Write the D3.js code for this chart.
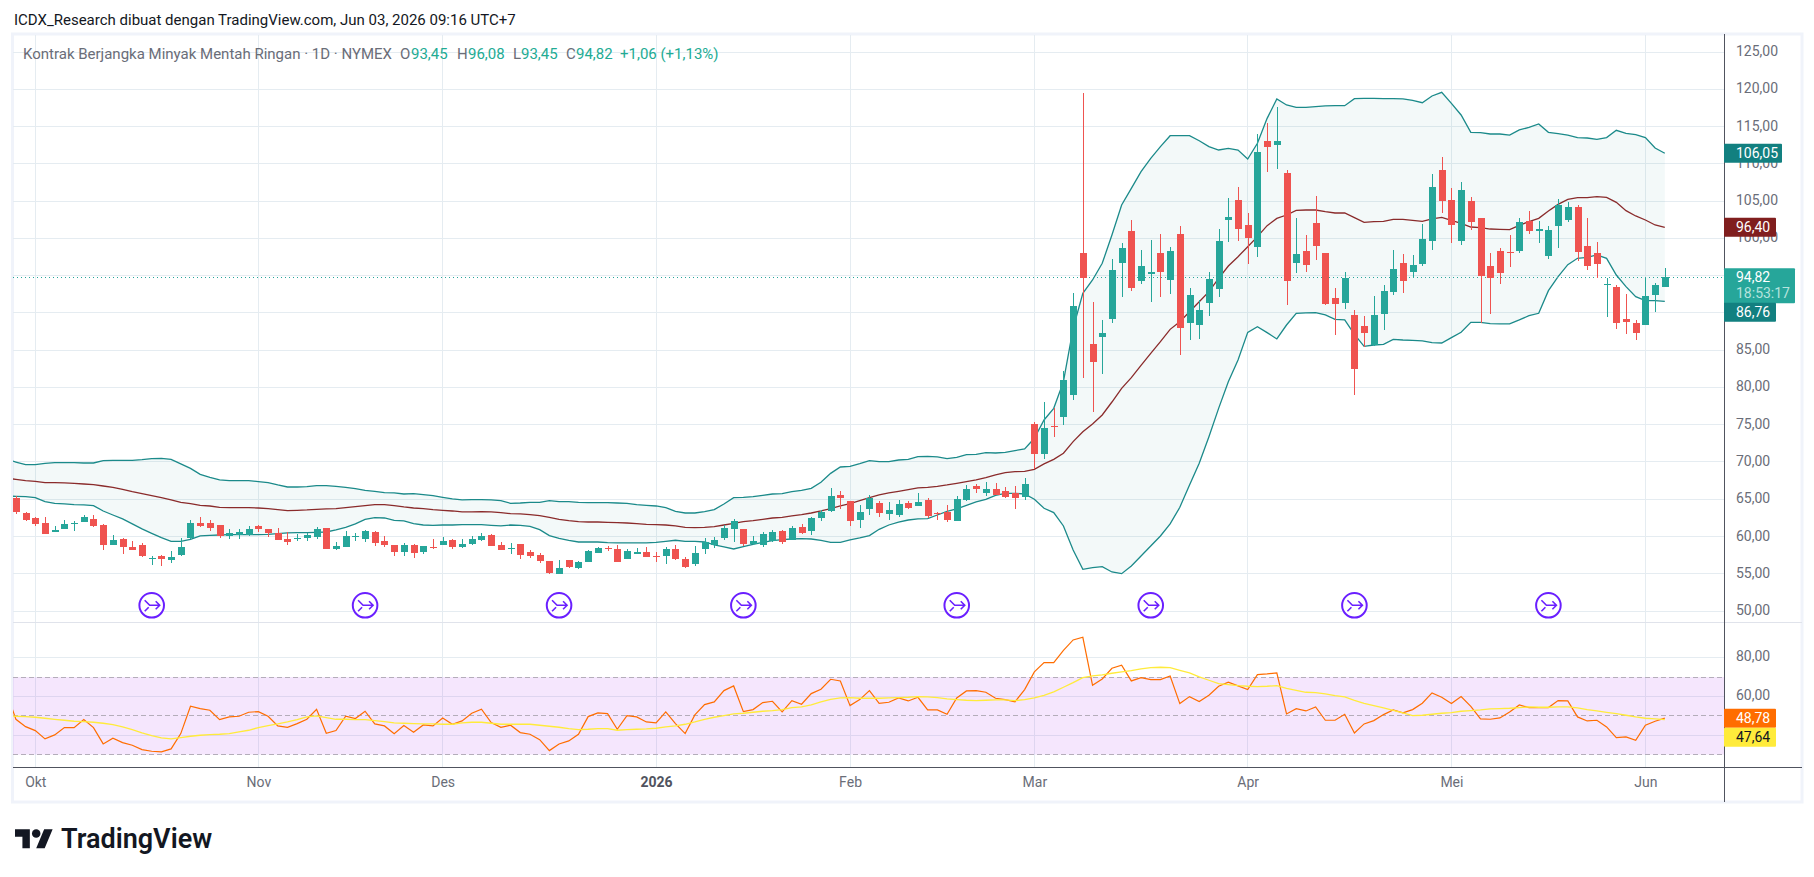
<!DOCTYPE html>
<html>
<head>
<meta charset="utf-8">
<style>
  html, body { margin: 0; padding: 0; background: #fff; }
  svg { display: block; }
  text { font-family: Roboto, "Noto Sans", sans-serif; }
</style>
<script src="https://cdn.jsdelivr.net/npm/d3@7"></script>
</head>
<body>
<svg id="chart" width="1814" height="877"></svg>
<script>
// daily bars, first one sits left of the plot edge and gets clipped
var opens = [66.00,65.20,63.19,62.52,61.85,60.69,61.05,61.81,61.98,62.39,61.58,
  58.90,59.70,58.63,58.90,57.11,57.42,56.89,57.56,59.84,61.85,
  61.85,61.58,60.11,60.24,60.24,61.45,61.05,60.51,59.70,59.70,
  59.84,59.97,61.18,58.36,58.63,59.97,59.70,60.64,59.44,58.90,
  57.96,58.90,57.96,58.59,58.90,59.57,58.63,59.03,59.57,60.24,
  58.90,58.41,59.03,57.96,57.56,56.75,55.01,56.89,55.81,56.62,
  57.83,58.54,58.36,57.02,57.69,57.96,57.38,57.42,58.36,57.02,
  56.35,58.36,58.90,59.84,61.05,61.05,59.03,58.90,59.44,60.78,
  59.57,61.31,60.78,62.52,63.46,65.61,64.80,62.25,63.73,64.53,
  63.06,62.92,64.53,64.13,64.94,63.15,63.33,62.12,64.94,66.81,
  65.88,66.41,66.14,65.88,65.34,75.13,71.11,74.86,76.07,79.02,
  98.07,85.87,86.80,89.22,96.73,101.03,94.32,95.26,98.07,94.45,
  100.62,88.68,88.41,91.37,93.24,102.50,105.19,101.83,98.88,113.10,
  112.56,108.81,96.73,98.34,102.10,98.07,92.04,91.37,89.76,88.28,
  85.73,89.89,92.84,96.73,95.53,96.60,99.68,109.21,105.19,99.68,
  105.05,102.77,96.33,98.34,98.21,98.34,102.37,101.03,97.67,101.70,
  102.50,104.25,99.01,98.07,93.83,93.51,89.22,88.68,88.41,92.44,
  93.45];
var highs = [66.30,65.47,63.37,62.61,62.61,61.45,62.25,62.12,62.92,62.92,61.72,
  60.24,59.84,59.44,59.17,57.42,57.56,58.09,59.84,62.25,62.66,
  62.25,61.58,61.05,61.05,61.45,61.58,61.05,61.18,60.64,60.38,
  60.51,61.31,61.18,59.30,60.78,60.51,60.91,60.78,60.11,58.90,
  59.17,59.03,58.77,59.70,59.97,59.70,59.70,60.11,60.51,60.38,
  59.30,59.17,59.03,58.23,57.83,56.75,56.89,56.89,56.75,58.23,
  58.63,58.77,58.90,58.36,58.50,58.63,57.96,58.63,58.90,57.29,
  58.77,59.84,59.97,61.58,62.39,61.05,60.11,60.64,60.91,60.91,
  61.45,61.72,62.66,63.59,66.55,66.14,64.80,64.27,65.61,64.80,
  64.67,64.94,64.80,65.88,65.20,63.33,64.27,65.47,66.95,67.08,
  67.35,67.22,66.68,66.81,67.89,75.40,78.08,77.28,82.24,92.71,
  119.54,91.50,89.09,97.27,99.42,102.50,98.48,99.82,100.62,98.88,
  101.70,93.38,91.77,95.53,101.29,105.45,106.93,103.44,114.04,115.51,
  117.66,109.21,102.77,100.49,105.72,98.07,93.38,95.53,90.43,89.62,
  92.31,93.78,98.48,97.94,97.81,101.97,108.67,110.95,106.79,107.60,
  105.59,102.77,98.07,98.74,100.49,102.77,103.71,102.37,101.70,105.32,
  104.92,104.51,102.77,99.55,94.72,93.78,92.57,89.09,94.85,94.05,
  96.08];
var lows = [65.00,63.10,62.12,61.45,60.38,60.69,61.05,60.82,61.98,61.31,58.23,
  58.90,57.69,58.23,57.29,56.22,56.08,56.48,57.42,59.70,61.31,
  60.78,59.84,59.70,59.70,60.11,60.64,59.97,59.57,58.90,59.44,
  59.44,59.70,58.36,58.23,58.63,59.44,59.30,58.77,58.63,57.42,
  57.42,57.16,57.69,58.36,58.90,58.36,58.50,58.90,59.44,58.77,
  58.23,57.69,57.02,57.16,56.48,55.01,55.01,55.81,55.68,56.62,
  57.83,58.09,56.62,57.02,57.69,57.29,56.62,56.35,56.89,55.81,
  56.08,57.69,58.50,59.57,59.30,58.77,58.90,58.63,59.30,59.03,
  59.57,60.38,60.24,62.12,63.33,63.73,61.45,61.18,62.92,62.66,
  62.25,62.66,63.73,64.13,62.52,62.25,61.98,62.12,64.80,65.88,
  65.47,65.61,65.20,63.73,64.94,69.10,70.44,73.39,75.00,78.35,
  81.35,76.74,81.84,88.68,92.17,92.98,93.92,91.50,92.17,92.57,
  84.39,86.40,86.54,89.62,92.17,99.55,99.68,96.60,97.54,108.94,
  109.34,91.10,95.39,95.53,97.13,91.10,87.07,90.56,79.02,85.46,
  85.60,87.74,92.44,92.71,94.72,96.33,98.48,103.44,99.42,99.15,
  101.16,88.68,89.89,93.92,96.20,98.07,100.62,99.42,97.27,98.74,
  102.23,97.00,95.79,94.72,89.49,87.88,87.21,86.40,88.41,90.16,
  93.45];
var closes = [65.20,63.33,62.25,61.72,60.38,60.91,61.72,61.90,62.66,61.45,58.90,
  59.57,58.63,58.23,57.42,57.20,57.02,57.29,58.63,61.85,61.45,
  61.18,60.11,60.51,60.64,61.05,61.05,60.51,59.57,59.30,59.84,
  60.24,61.05,58.36,58.77,60.11,60.11,60.78,59.17,58.90,57.96,
  58.90,57.83,58.77,58.50,59.44,58.63,59.03,59.70,60.11,58.77,
  58.23,58.54,57.56,57.42,56.75,55.14,55.81,55.95,56.62,58.09,
  58.50,58.41,56.62,58.09,57.96,57.29,57.29,58.36,57.02,55.95,
  57.83,59.30,59.57,61.18,62.12,59.03,59.44,60.38,60.64,59.30,
  61.18,60.51,62.52,63.33,65.47,65.20,62.12,63.33,65.20,63.19,
  63.59,64.40,63.86,64.67,62.79,63.02,62.25,65.07,66.41,66.41,
  66.41,65.61,65.34,65.20,67.08,71.11,74.60,74.78,81.04,90.96,
  94.72,83.45,87.34,95.79,98.74,93.38,96.33,95.53,95.53,98.34,
  88.01,92.44,90.43,94.59,99.68,102.90,101.29,100.09,111.63,112.30,
  113.10,94.32,97.94,96.46,99.01,91.23,91.23,94.72,82.51,87.34,
  89.76,92.98,95.93,94.32,96.46,99.95,106.93,105.05,101.83,106.53,
  102.23,94.99,94.72,95.39,98.07,102.23,101.03,101.29,101.16,104.51,
  104.25,98.21,96.33,96.60,93.96,88.68,88.82,87.34,92.31,93.78,
  94.82];

var bbUpper = [70.40,70.03,69.68,69.68,69.86,69.95,69.95,69.95,69.90,69.90,70.21,
  70.26,70.26,70.26,70.35,70.48,70.53,70.39,69.77,69.18,68.38,
  67.98,67.62,67.53,67.53,67.53,67.40,67.26,66.95,66.68,66.68,
  66.73,66.86,66.86,66.77,66.64,66.46,66.23,66.10,65.92,65.88,
  65.74,65.79,65.65,65.52,65.29,65.07,64.94,64.98,64.98,64.94,
  64.85,64.49,64.53,64.62,64.62,64.85,64.71,64.71,64.62,64.58,
  64.58,64.58,64.53,64.49,64.31,64.22,64.13,63.91,63.42,63.19,
  63.19,63.37,63.64,64.40,65.25,65.29,65.38,65.56,65.74,65.79,
  66.05,66.23,66.50,67.31,68.51,69.36,69.45,69.81,70.21,70.08,
  70.08,70.30,70.39,70.75,70.79,70.71,70.48,70.66,71.02,71.06,
  71.29,71.24,71.33,71.56,71.78,73.21,75.67,77.23,80.81,87.97,
  92.66,94.45,96.69,100.49,104.51,106.75,108.99,110.77,112.34,113.81,
  113.81,113.81,113.14,112.34,111.89,112.12,111.89,110.68,112.79,116.14,
  118.74,117.93,117.62,117.62,117.71,117.80,117.84,117.84,118.78,118.82,
  118.82,118.78,118.78,118.74,118.56,118.24,119.14,119.63,118.15,116.59,
  114.26,114.22,114.04,114.04,113.90,114.58,114.93,115.38,114.26,114.08,
  113.90,113.55,113.50,113.33,113.55,114.53,114.13,113.95,113.55,112.16,
  111.45];
var bbMiddle = [67.85,67.71,67.53,67.44,67.26,67.26,67.22,67.17,67.08,66.99,66.81,
  66.64,66.37,66.05,65.79,65.52,65.25,64.94,64.62,64.44,64.22,
  64.13,63.95,63.91,63.91,63.91,63.86,63.77,63.64,63.51,63.55,
  63.60,63.68,63.73,63.77,63.91,64.04,64.18,64.31,64.31,64.18,
  64.00,63.86,63.77,63.64,63.55,63.46,63.33,63.33,63.37,63.33,
  63.24,63.10,63.06,62.97,62.83,62.61,62.34,62.16,62.03,61.98,
  61.98,61.94,61.90,61.85,61.76,61.67,61.63,61.58,61.45,61.27,
  61.22,61.27,61.36,61.58,61.81,62.03,62.16,62.34,62.52,62.61,
  62.79,62.97,63.19,63.46,63.77,64.13,64.44,64.85,65.25,65.61,
  65.88,66.10,66.32,66.55,66.64,66.77,66.95,67.17,67.40,67.62,
  67.93,68.29,68.60,68.74,68.78,69.05,69.77,70.39,71.20,72.76,
  74.10,75.13,76.34,78.08,79.92,81.35,83.00,84.61,86.18,87.83,
  88.86,90.20,91.54,92.89,94.68,96.33,97.58,98.92,100.27,101.74,
  102.72,103.17,103.80,103.84,103.84,103.62,103.44,103.44,102.81,102.19,
  102.28,102.32,102.59,102.59,102.46,102.32,102.64,102.86,102.46,102.05,
  101.56,101.47,101.29,101.25,101.20,101.79,102.28,102.72,103.71,104.60,
  105.27,105.50,105.50,105.63,105.54,104.87,103.75,103.04,102.50,101.83,
  101.52];
var bbLower = [65.45,65.43,65.38,65.25,64.71,64.49,64.40,64.31,64.27,64.18,63.46,
  62.92,62.39,61.72,61.05,60.46,59.88,59.39,59.39,59.66,60.11,
  60.20,60.24,60.29,60.29,60.29,60.29,60.33,60.42,60.51,60.55,
  60.55,60.60,60.64,60.91,61.27,61.72,62.34,62.57,62.52,62.21,
  62.12,61.76,61.58,61.54,61.58,61.58,61.63,61.63,61.63,61.54,
  61.45,61.58,61.54,61.40,60.96,60.15,59.79,59.53,59.30,59.30,
  59.30,59.21,59.17,59.17,59.17,59.17,59.26,59.39,59.53,59.39,
  59.39,59.30,58.90,58.63,58.36,58.68,58.99,59.26,59.48,59.61,
  59.70,59.75,59.70,59.53,59.26,59.26,59.57,59.84,60.15,61.00,
  61.58,61.98,62.25,62.39,62.43,62.92,63.42,63.73,64.22,64.67,
  65.03,65.56,65.83,65.83,65.74,65.03,63.82,63.24,61.45,58.23,
  55.63,55.86,55.99,55.28,55.05,56.08,57.42,58.77,60.11,61.72,
  63.95,66.95,69.86,73.43,77.23,80.81,83.72,87.43,88.19,87.39,
  86.54,88.41,89.98,90.03,90.07,89.76,89.18,89.09,87.16,85.55,
  85.73,85.82,86.49,86.40,86.36,86.27,86.04,86.00,86.71,87.43,
  88.77,88.77,88.59,88.55,88.55,89.09,89.67,89.98,93.02,94.90,
  96.51,97.36,97.49,97.81,97.36,95.12,93.56,92.22,91.68,91.68,
  91.59];

var rsiValues = [62.50,48.21,44.43,42.37,38.08,40.14,43.92,43.92,48.04,43.92,35.50,
  38.42,36.19,34.81,32.58,31.72,31.37,32.92,40.82,54.91,53.71,
  52.85,48.04,49.42,49.76,51.82,52.16,49.76,44.78,44.09,45.98,
  48.21,53.37,41.00,42.37,49.76,48.56,52.34,45.81,44.78,40.82,
  44.95,41.51,45.29,44.78,48.90,45.64,47.35,51.31,53.37,46.49,
  44.09,45.12,41.34,40.48,37.73,32.06,35.50,37.04,40.48,49.59,
  51.48,51.13,43.06,50.10,49.42,46.84,46.32,51.99,45.98,40.82,
  50.45,55.77,57.15,62.99,65.40,52.16,53.20,56.80,57.49,51.99,
  57.84,55.95,61.44,63.68,68.83,67.97,55.26,58.35,62.99,56.46,
  56.98,59.21,57.66,59.55,53.02,53.02,50.79,59.21,62.82,62.99,
  62.13,59.04,58.35,57.15,63.51,72.61,77.42,77.42,83.78,89.11,
  90.48,65.74,69.00,74.50,76.05,67.97,69.69,68.66,68.66,70.55,
  56.29,59.90,57.32,60.58,65.22,67.29,65.40,63.51,71.24,71.58,
  72.10,50.96,53.71,52.51,54.57,47.70,47.70,50.79,41.17,45.81,
  47.53,50.62,53.02,51.48,53.20,56.46,61.79,59.55,56.29,59.90,
  54.91,48.38,48.21,48.90,51.99,55.60,54.23,54.23,54.23,57.84,
  57.66,49.42,47.35,47.70,44.26,38.76,39.11,37.39,45.12,47.18,
  48.78];
var rsiSignal = [49.90,49.76,49.59,49.25,48.73,48.21,47.70,47.18,47.01,46.67,46.15,
  45.47,44.27,42.89,41.17,39.80,38.60,38.08,38.77,39.45,39.97,
  40.31,40.49,40.83,41.69,42.55,43.92,44.95,45.81,46.84,48.04,
  49.42,49.94,49.08,48.21,48.21,48.04,48.04,47.53,47.01,46.33,
  46.15,45.98,45.81,45.81,45.64,45.64,46.33,46.67,46.67,46.15,
  45.64,45.64,45.64,45.64,45.12,44.61,44.09,43.41,42.89,43.06,
  43.41,43.41,42.55,42.89,43.06,43.23,43.58,44.27,44.78,45.64,
  46.84,48.21,49.25,50.11,50.97,51.31,51.82,52.34,52.68,53.20,
  54.23,54.57,55.60,57.15,58.52,59.21,59.38,59.04,59.04,59.04,
  59.21,59.38,59.56,59.90,59.73,59.38,58.70,58.35,58.01,57.84,
  58.01,58.18,58.18,57.84,58.35,59.21,60.59,62.30,64.71,67.12,
  69.69,70.55,71.07,71.93,72.61,73.30,74.16,74.85,75.02,74.85,
  73.47,72.10,70.04,68.32,66.60,66.08,65.57,65.22,65.05,65.22,
  65.57,64.19,63.16,62.13,61.96,61.27,60.41,59.73,58.01,56.46,
  55.26,54.06,52.85,51.48,50.11,50.28,50.79,51.31,51.65,52.34,
  52.68,53.03,53.54,53.71,53.89,54.23,54.57,54.40,54.40,54.57,
  54.57,54.06,53.20,52.51,51.82,51.14,50.28,49.42,48.73,48.39,
  48.04];

var priceTicks = [50,55,60,65,70,75,80,85,90,95,100,105,110,115,120,125];
var rsiTicks = [80,60];
var rsiGrid = [80,60,40];
var rsiDashes = [70,50,30];
var monthLabels = ["Okt","Nov","Des","2026","Feb","Mar","Apr","Mei","Jun"];
var monthBars = [3,26,45,67,87,106,128,149,169];
var rollBars = [15,37,57,76,98,118,139,159];

var plotLeft = 13, plotRight = 1724, outerRight = 1802;
var plotTop = 35, sep = 622, axisY = 767, plotBottom = 802;

var comma = d3.formatLocale({decimal: ",", thousands: ".", grouping: [3], currency: ["", ""]}).format(".2f");
var svg = d3.select("#chart");

var bars = d3.range(closes.length);
var x = d3.scaleLinear().domain([0, 171]).range([6.2, 1664.8]);
var y = d3.scaleLinear().domain([50, 125]).range([611.3, 52.3]);
var yRsi = d3.scaleLinear().domain([30, 80]).range([754.6, 657.6]);

// snap hairlines onto a pixel row
function px(v) { return Math.floor(v) + 0.5; }
function pxPrice(d) { return px(y(d) - 0.3); }
function pxRsi(d) { return px(yRsi(d)); }

svg.append("defs").append("clipPath").attr("id", "plot")
  .append("rect").attr("x", plotLeft).attr("y", plotTop).attr("width", plotRight - plotLeft).attr("height", axisY - plotTop);

// frame
svg.append("rect").attr("x", 12.5).attr("y", 34).attr("width", outerRight - 12.5).attr("height", plotBottom - 34)
  .attr("fill", "none").attr("stroke", "#f0f3fa").attr("stroke-width", 3);

// header
svg.append("text").attr("x", 14).attr("y", 25).attr("font-size", 15).attr("fill", "#131722")
  .text("ICDX_Research dibuat dengan TradingView.com, Jun 03, 2026 09:16 UTC+7");

// grid
var gridColor = "#e5ecf1";
svg.append("g").selectAll("line").data(priceTicks).enter().append("line")
  .attr("x1", plotLeft).attr("x2", plotRight).attr("y1", pxPrice).attr("y2", pxPrice)
  .attr("stroke", gridColor);
svg.append("g").selectAll("line").data(rsiGrid).enter().append("line")
  .attr("x1", plotLeft).attr("x2", plotRight).attr("y1", pxRsi).attr("y2", pxRsi)
  .attr("stroke", gridColor);
svg.append("g").selectAll("line").data(monthBars).enter().append("line")
  .attr("x1", function(d){ return px(x(d)); }).attr("x2", function(d){ return px(x(d)); })
  .attr("y1", plotTop).attr("y2", axisY).attr("stroke", gridColor);

// legend over the grid
var legend = svg.append("text").attr("y", 59).attr("font-size", 15);
[[23, "Kontrak Berjangka Minyak Mentah Ringan · 1D · NYMEX", "#6a6d78"],
 [400, "O", "#6a6d78"], [411, "93,45", "#22ab94"],
 [457, "H", "#6a6d78"], [468, "96,08", "#22ab94"],
 [513, "L", "#6a6d78"], [521, "93,45", "#22ab94"],
 [566, "C", "#6a6d78"], [576, "94,82", "#22ab94"],
 [620, "+1,06 (+1,13%)", "#22ab94"]].forEach(function(p){
  legend.append("tspan").attr("x", p[0]).attr("fill", p[2]).text(p[1]);
});

// pane separator
svg.append("line").attr("x1", plotLeft).attr("x2", outerRight).attr("y1", sep + 0.5).attr("y2", sep + 0.5).attr("stroke", "#e0e3eb");

var plot = svg.append("g").attr("clip-path", "url(#plot)");

// bollinger
plot.append("path").datum(bars)
  .attr("fill", "rgba(19,128,128,0.05)")
  .attr("d", d3.area().x(function(i){ return x(i); }).y0(function(i){ return y(bbLower[i]); }).y1(function(i){ return y(bbUpper[i]); }));
function bbLine(values, color) {
  plot.append("path").datum(values).attr("fill", "none").attr("stroke", color).attr("stroke-width", 1.3)
    .attr("d", d3.line().x(function(d, i){ return x(i); }).y(function(d){ return y(d); }));
}
bbLine(bbUpper, "#1b8a8a");
bbLine(bbLower, "#1b8a8a");
bbLine(bbMiddle, "#8a2b2b");

// last price line
var lastY = px(y(closes[closes.length - 1]));
plot.append("line").attr("x1", plotLeft).attr("x2", plotRight).attr("y1", lastY).attr("y2", lastY)
  .attr("stroke", "#26a69a").attr("stroke-dasharray", "1 3");

// candles
var candle = plot.append("g").attr("shape-rendering", "crispEdges").selectAll("g").data(bars).enter().append("g")
  .attr("fill", function(i){ return closes[i] >= opens[i] ? "#26a69a" : "#ef5350"; });
candle.append("rect")
  .attr("x", function(i){ return Math.round(x(i)); }).attr("width", 1)
  .attr("y", function(i){ return Math.round(y(highs[i])); })
  .attr("height", function(i){ return Math.max(1, Math.round(y(lows[i])) - Math.round(y(highs[i]))); });
candle.append("rect")
  .attr("x", function(i){ return Math.round(x(i)) - 3; }).attr("width", 7)
  .attr("y", function(i){ return Math.round(y(Math.max(opens[i], closes[i]))); })
  .attr("height", function(i){ return Math.max(1, Math.round(y(Math.min(opens[i], closes[i]))) - Math.round(y(Math.max(opens[i], closes[i])))); });

// roll markers
var roll = plot.append("g").selectAll("g").data(rollBars).enter().append("g")
  .attr("transform", function(d){ return "translate(" + x(d) + ",605.3)"; })
  .attr("fill", "none").attr("stroke", "#6a1fff").attr("stroke-width", 2);
roll.append("circle").attr("r", 12.3).attr("fill", "#fff");
roll.append("path").attr("stroke-width", 1.6).attr("d", "M-7,-5L-2,0L8,0M4,-4L8,0L4,4M-7,6L-3,2");

// rsi pane
plot.append("rect").attr("x", plotLeft).attr("width", plotRight - plotLeft)
  .attr("y", yRsi(70)).attr("height", yRsi(30) - yRsi(70)).attr("fill", "rgba(170,50,240,0.12)");
plot.append("g").selectAll("line").data(rsiDashes).enter().append("line")
  .attr("x1", plotLeft).attr("x2", plotRight).attr("y1", pxRsi).attr("y2", pxRsi)
  .attr("stroke", "#b4adba").attr("stroke-dasharray", "5 3");
var rsiLine = d3.line().x(function(d, i){ return x(i); }).y(function(d){ return yRsi(d); });
plot.append("path").datum(rsiValues).attr("fill", "none").attr("stroke", "#ff6d00").attr("stroke-width", 1.2).attr("d", rsiLine);
plot.append("path").datum(rsiSignal).attr("fill", "none").attr("stroke", "#ffeb3b").attr("stroke-width", 1.3).attr("d", rsiLine);

// axes lines
svg.append("line").attr("x1", plotRight + 0.5).attr("x2", plotRight + 0.5).attr("y1", plotTop - 1).attr("y2", plotBottom).attr("stroke", "#50535e");
svg.append("line").attr("x1", plotLeft).attr("x2", outerRight).attr("y1", axisY + 0.5).attr("y2", axisY + 0.5).attr("stroke", "#50535e");

// price and rsi ticks
var priceAxis = svg.append("g").attr("transform", "translate(" + plotRight + ",0)")
  .call(d3.axisRight(y).tickValues(priceTicks).tickFormat(comma).tickSize(0).tickPadding(12));
var rsiAxis = svg.append("g").attr("transform", "translate(" + plotRight + ",0)")
  .call(d3.axisRight(yRsi).tickValues(rsiTicks).tickFormat(comma).tickSize(0).tickPadding(12));
var timeAxis = svg.append("g").attr("transform", "translate(0," + axisY + ")")
  .call(d3.axisBottom(x).tickValues(monthBars).tickFormat(function(d){ return monthLabels[monthBars.indexOf(d)]; }).tickSize(0).tickPadding(10));
[priceAxis, rsiAxis, timeAxis].forEach(function(a){
  a.select(".domain").remove();
  a.selectAll("text").attr("font-family", "Roboto, sans-serif").attr("font-size", 14).attr("fill", "#6a6d78");
});
priceAxis.selectAll("text").attr("dy", "0.23em");
rsiAxis.selectAll("text").attr("dy", "0.23em");
timeAxis.selectAll("text").filter(function(d){ return d == 67; }).attr("font-weight", 700).attr("fill", "#50535e");

// value tags on the price scale
function tag(yTop, h, w, bg, rows) {
  var g = svg.append("g");
  g.append("rect").attr("x", plotRight).attr("y", yTop).attr("width", w).attr("height", h).attr("fill", bg).attr("rx", 1);
  rows.forEach(function(r, i){
    g.append("text").attr("x", plotRight + 12).attr("y", yTop + 14 + i * 16).attr("font-size", 14).attr("fill", r[1]).text(r[0]);
  });
}
tag(y(bbUpper[171]) - 9.5, 19, 58, "#128080", [["106,05", "#ffffff"]]);
tag(y(bbMiddle[171]) - 9.5, 19, 52, "#801e1e", [["96,40", "#ffffff"]]);
tag(y(closes[171]) - 9, 35, 71, "#26a69a", [["94,82", "#ffffff"], ["18:53:17", "#b5e3dd"]]);
tag(302.7, 19, 52, "#128080", [["86,76", "#ffffff"]]);
tag(yRsi(rsiValues[171]) - 9.5, 19, 52, "#ff6d00", [["48,78", "#ffffff"]]);
tag(727.7, 19, 52, "#ffeb3b", [["47,64", "#131722"]]);

// logo
var logo = svg.append("g").attr("transform", "translate(15,825) scale(1.06)").attr("fill", "#131722");
logo.append("path").attr("d", "M14 22H7V11H0V4h14v18zM28 22h-8l7.5-18h8L28 22z");
logo.append("circle").attr("cx", 20).attr("cy", 8).attr("r", 4);
svg.append("text").attr("x", 61).attr("y", 848).attr("font-family", "Inter, sans-serif")
  .attr("font-size", 27).attr("font-weight", 600).attr("fill", "#131722").text("TradingView");
</script>
</body>
</html>
